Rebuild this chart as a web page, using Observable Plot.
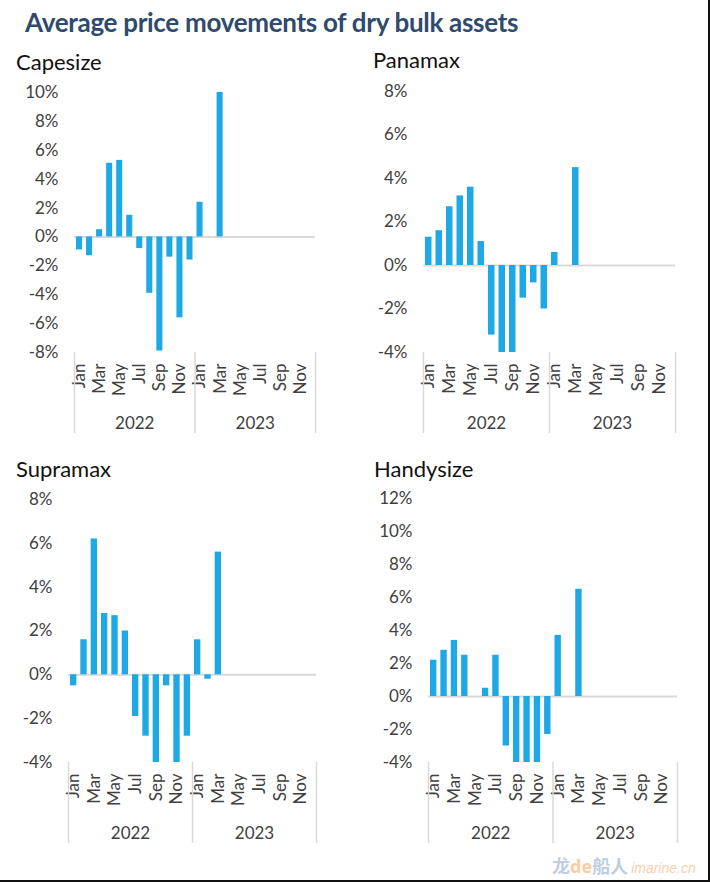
<!DOCTYPE html>
<html>
<head>
<meta charset="utf-8">
<script src="https://cdn.jsdelivr.net/npm/d3@7"></script>
<script src="https://cdn.jsdelivr.net/npm/@observablehq/plot@0.6"></script>
<style>
  html, body { margin: 0; padding: 0; background: #fff; }
  #page { position: relative; width: 710px; height: 882px; overflow: hidden; font-family: Lato, "Open Sans", sans-serif; }
  #frame { position: absolute; left: 0; top: 0; width: 708px; height: 880px; border-right: 2px solid #111; border-bottom: 2px solid #111; pointer-events: none; }
  .title { position: absolute; left: 25px; top: 6px; font: bold 26px Lato, sans-serif; color: #2f4a6d; letter-spacing: -0.3px; white-space: nowrap; }
  .ptitle { position: absolute; font: 22px Lato, sans-serif; color: #111; white-space: nowrap; }
  .panel { position: absolute; }
  .wm { position: absolute; left: 552px; top: 852px; white-space: nowrap; opacity: 0.5; }
  .wm .cn { font: bold 18px "Noto Sans CJK SC", sans-serif; color: #7f9cc0; }
  .wm .de { font: bold 18px "Noto Sans", sans-serif; color: #f39a4a; }
  .wm .url { font: italic 14px "Liberation Sans", sans-serif; color: #f3a060; margin-left: 3px; }
</style>
</head>
<body>
<div id="page">
  <div class="title">Average price movements of dry bulk assets</div>
  <div id="frame"></div>
  <div class="wm"><span class="cn">龙</span><span class="de">de</span><span class="cn">船人</span><span class="url">imarine.cn</span></div>
</div>
<script>
// Month tick labels and years
const monthNames = ["Jan","Feb","Mar","Apr","May","Jun","Jul","Aug","Sep","Oct","Nov","Dec"];
const years = ["2022", "2023"];

// Monthly average price movement (%), Jan 2022 .. Mar 2023
const capesize  = [-0.9, -1.3, 0.5, 5.1, 5.3, 1.5, -0.8, -3.9, -7.9, -1.4, -5.6, -1.6, 2.4, 0, 10.0];
const panamax   = [1.3, 1.6, 2.7, 3.2, 3.6, 1.1, -3.2, -4.0, -4.0, -1.5, -0.8, -2.0, 0.6, 0, 4.5];
const supramax  = [-0.5, 1.6, 6.2, 2.8, 2.7, 2.0, -1.9, -2.8, -4.0, -0.5, -4.0, -2.8, 1.6, -0.2, 5.6];
const handysize = [2.2, 2.8, 3.4, 2.5, 0, 0.5, 2.5, -3.0, -4.0, -4.0, -4.0, -2.3, 3.7, 0, 6.5];

// Y-axis tick values per panel
const capesizeTicks  = [-8, -6, -4, -2, 0, 2, 4, 6, 8, 10];
const panamaxTicks   = [-4, -2, 0, 2, 4, 6, 8];
const supramaxTicks  = [-4, -2, 0, 2, 4, 6, 8];
const handysizeTicks = [-4, -2, 0, 2, 4, 6, 8, 10, 12];

const BAR = "#1ea8e4";
const GRID = "#d9d9d9";
const TXT = "#404040";
const nMonths = years.length * 12;

function panel({name, values, ticks, left, top, width, mLeft, mRight, plotTop, plotH, titleX, titleY}) {
  const page = document.getElementById("page");
  const t = document.createElement("div");
  t.className = "ptitle";
  t.style.left = titleX + "px";
  t.style.top = titleY + "px";
  t.textContent = name;
  page.appendChild(t);

  const data = values.map((v, i) => ({i, v}));
  const yMin = d3.min(ticks), yMax = d3.max(ticks);
  const height = 360;
  const mTop = plotTop - top;
  const mBottom = height - mTop - plotH;
  const tickPos = d3.range(0, nMonths, 2).map(i => i + 0.5);

  const chart = Plot.plot({
    width, height,
    marginLeft: mLeft, marginRight: mRight, marginTop: mTop, marginBottom: mBottom,
    style: {fontFamily: "Lato, sans-serif", fontSize: "17px", color: TXT, background: "transparent"},
    x: {domain: [0, nMonths], axis: null},
    y: {domain: [yMin, yMax], axis: null},
    marks: [
      Plot.ruleY([0], {stroke: GRID, strokeWidth: 2}),
      Plot.rectY(data, {x1: d => d.i, x2: d => d.i + 1, y: d => d.v, insetLeft: 2, insetRight: 2, fill: BAR}),
      Plot.axisY({ticks, tickSize: 0, tickPadding: 16, tickFormat: d => d + "%", fontSize: 17, fill: TXT}),
      Plot.axisX({ticks: tickPos, tickSize: 0, tickPadding: 11, tickRotate: -90,
                  tickFormat: d => monthNames[Math.floor(d) % 12], fontSize: 17, fill: TXT}),
      Plot.ruleX(d3.range(0, nMonths + 1, 12), {y1: () => yMin, y2: () => yMin, insetBottom: -81, stroke: GRID, strokeWidth: 1.5}),
      Plot.text(years, {x: (d, i) => i * 12 + 6, y: () => yMin, dy: 71, text: d => d, fontSize: 17, fill: TXT, lineAnchor: "middle"})
    ]
  });
  const wrap = document.createElement("div");
  wrap.className = "panel";
  wrap.style.left = left + "px";
  wrap.style.top = top + "px";
  wrap.appendChild(chart);
  page.appendChild(wrap);
}

panel({name: "Capesize", values: capesize, ticks: capesizeTicks,
       left: 0, top: 80, width: 340, mLeft: 74, mRight: 25, plotTop: 92, plotH: 260, titleX: 16, titleY: 48});
panel({name: "Panamax", values: panamax, ticks: panamaxTicks,
       left: 350, top: 80, width: 350, mLeft: 73, mRight: 25, plotTop: 91, plotH: 261, titleX: 373, titleY: 46});
panel({name: "Supramax", values: supramax, ticks: supramaxTicks,
       left: 0, top: 487, width: 340, mLeft: 68, mRight: 24, plotTop: 499, plotH: 263, titleX: 16, titleY: 455});
panel({name: "Handysize", values: handysize, ticks: handysizeTicks,
       left: 350, top: 487, width: 350, mLeft: 78, mRight: 23, plotTop: 498, plotH: 264, titleX: 374, titleY: 455});
</script>
</body>
</html>
